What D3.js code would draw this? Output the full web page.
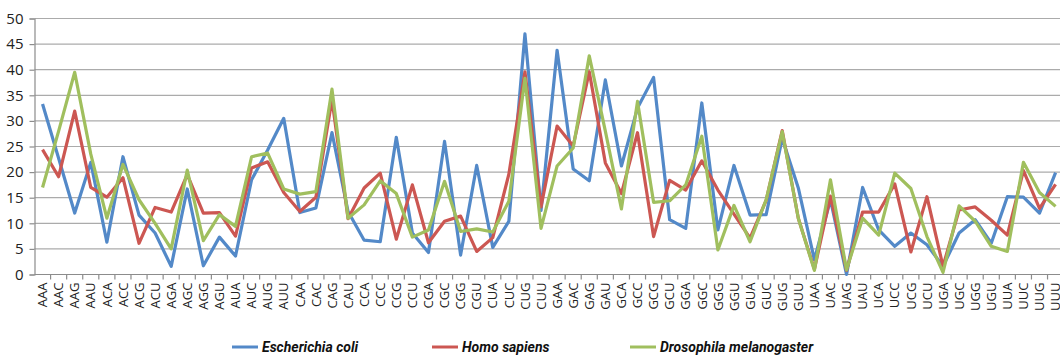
<!DOCTYPE html>
<html>
<head>
<meta charset="utf-8">
<script src="https://cdn.jsdelivr.net/npm/d3@7"></script>
<style>
  html, body { margin: 0; padding: 0; background: #fff; }
  svg { display: block; }
</style>
</head>
<body>
<svg id="chart" width="1060" height="361"></svg>
<script>
// Codon usage (per thousand codons) for three organisms
const codons = ["AAA","AAC","AAG","AAU","ACA","ACC","ACG","ACU","AGA","AGC","AGG","AGU","AUA","AUC","AUG","AUU",
  "CAA","CAC","CAG","CAU","CCA","CCC","CCG","CCU","CGA","CGC","CGG","CGU","CUA","CUC","CUG","CUU",
  "GAA","GAC","GAG","GAU","GCA","GCC","GCG","GCU","GGA","GGC","GGG","GGU","GUA","GUC","GUG","GUU",
  "UAA","UAC","UAG","UAU","UCA","UCC","UCG","UCU","UGA","UGC","UGG","UGU","UUA","UUC","UUG","UUU"];

const ecoli = [33.3,22.7,12.0,21.9,6.3,23.0,11.6,8.1,1.6,16.7,1.7,7.3,3.6,18.5,24.3,30.5,
  12.1,13.0,27.7,12.3,6.7,6.4,26.8,8.1,4.3,26.0,3.8,21.3,5.3,10.4,47.0,12.5,
  43.8,20.6,18.3,38.0,21.2,32.5,38.5,10.7,9.0,33.5,8.7,21.3,11.6,11.7,26.6,16.9,
  2.9,14.6,0.0,17.0,8.7,5.5,8.1,5.8,1.6,8.1,10.7,6.1,15.2,15.1,12.0,19.9];

const human = [24.4,19.1,31.9,17.0,15.1,18.9,6.1,13.1,12.2,19.5,12.0,12.1,7.5,20.8,22.0,16.0,
  12.3,15.1,34.2,10.9,16.9,19.8,6.9,17.5,6.2,10.4,11.4,4.5,7.2,19.6,39.6,13.2,
  29.0,25.1,39.6,21.8,15.8,27.7,7.4,18.4,16.5,22.2,16.5,11.8,7.1,14.5,28.1,11.0,
  1.0,15.3,0.8,12.2,12.2,17.7,4.4,15.2,1.6,12.6,13.2,10.6,7.7,20.3,12.9,17.6];

const fly = [17.0,28.0,39.5,23.5,11.0,21.5,14.6,10.0,5.0,20.4,6.6,11.7,9.4,23.0,23.7,16.7,
  15.7,16.2,36.2,11.0,13.6,18.3,15.8,7.3,8.7,18.2,8.4,8.9,8.3,14.3,38.3,9.0,
  21.2,24.7,42.7,28.0,12.8,33.8,14.1,14.4,17.5,27.0,4.8,13.5,6.4,14.6,27.9,11.0,
  0.8,18.5,0.9,11.0,7.7,19.8,16.8,7.4,0.4,13.4,10.4,5.5,4.5,21.9,16.0,13.3];

const yTicks = [0,5,10,15,20,25,30,35,40,45,50];

const seriesList = [
  { name: "Escherichia coli", values: ecoli, color: "#5389c8" },
  { name: "Homo sapiens", values: human, color: "#cc5752" },
  { name: "Drosophila melanogaster", values: fly, color: "#a0bf5e" }
];

const svg = d3.select("#chart");
const plotLeft = 34.5, plotTop = 18.5, plotBottom = 274.5;
const step = 16.08;

const x = d3.scaleBand().domain(codons).range([plotLeft, plotLeft + step * codons.length]).padding(0);
const y = d3.scaleLinear().domain([0, 50]).range([plotBottom, plotTop]);
const cx = c => x(c) + x.bandwidth() / 2;

// horizontal gridlines
svg.append("g").selectAll("line").data(yTicks.filter(t => t > 0)).join("line")
  .attr("x1", plotLeft).attr("x2", 1060)
  .attr("y1", d => y(d)).attr("y2", d => y(d))
  .attr("stroke", "#ababab").attr("stroke-width", 1.2);

// y axis
const yAxis = svg.append("g").attr("transform", `translate(${plotLeft},0)`)
  .call(d3.axisLeft(y).tickValues(yTicks).tickSize(5).tickPadding(6));
yAxis.select(".domain").attr("stroke", "#8c8c8c").attr("stroke-width", 1.2);
yAxis.selectAll(".tick line").attr("stroke", "#8c8c8c").attr("stroke-width", 1.2);
yAxis.selectAll(".tick text")
  .attr("font-family", "'Open Sans', sans-serif").attr("font-size", 15).attr("fill", "#222");

// x axis baseline and boundary ticks
svg.append("line").attr("x1", plotLeft).attr("x2", 1060).attr("y1", plotBottom).attr("y2", plotBottom)
  .attr("stroke", "#8c8c8c").attr("stroke-width", 1.2);
svg.append("g").selectAll("line").data(codons).join("line")
  .attr("x1", d => x(d) + x.bandwidth()).attr("x2", d => x(d) + x.bandwidth())
  .attr("y1", plotBottom).attr("y2", plotBottom + 5)
  .attr("stroke", "#8c8c8c").attr("stroke-width", 1.2);

// rotated category labels
svg.append("g").selectAll("text").data(codons).join("text")
  .attr("transform", d => `translate(${cx(d)},${plotBottom + 8}) rotate(-90)`)
  .attr("text-anchor", "end").attr("dy", "0.36em")
  .attr("font-family", "'Open Sans', sans-serif").attr("font-size", 13).attr("fill", "#222")
  .text(d => d);

// series lines
const line = d3.line().x((v, i) => cx(codons[i])).y(v => y(v));
svg.append("g").selectAll("path").data(seriesList).join("path")
  .attr("d", s => line(s.values))
  .attr("fill", "none").attr("stroke", s => s.color)
  .attr("stroke-width", 3.2).attr("stroke-linejoin", "round");

// legend
const legendX = [232, 432, 630];
const legend = svg.append("g").selectAll("g").data(seriesList).join("g")
  .attr("transform", (s, i) => `translate(${legendX[i]},347)`);
legend.append("line").attr("x1", 0).attr("x2", 26).attr("y1", 0).attr("y2", 0)
  .attr("stroke", s => s.color).attr("stroke-width", 3);
legend.append("text").attr("x", 30).attr("dy", "0.35em")
  .attr("font-family", "Roboto, sans-serif").attr("font-weight", "bold").attr("font-style", "italic")
  .attr("font-size", 14).attr("fill", "#111")
  .text(s => s.name);
</script>
</body>
</html>
